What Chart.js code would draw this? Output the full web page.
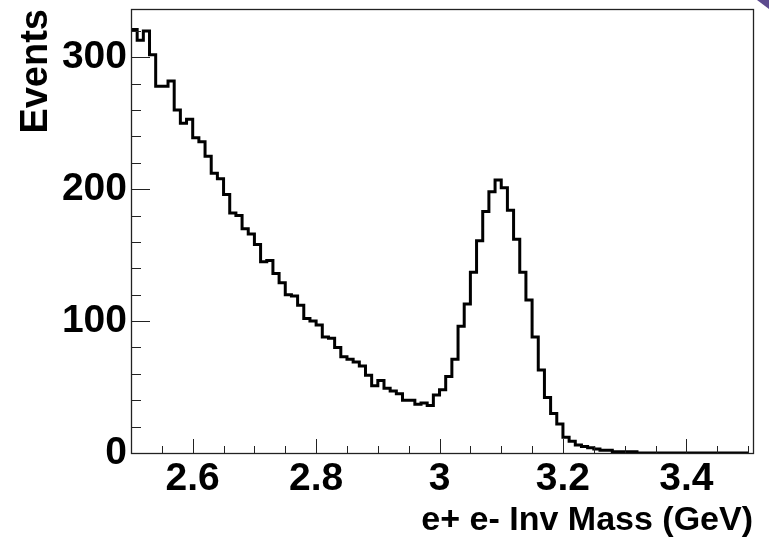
<!DOCTYPE html>
<html lang="en">
<head>
<meta charset="UTF-8">
<title>e+ e- Inv Mass</title>
<script src="https://cdn.jsdelivr.net/npm/chart.js"></script>
<style>
  html, body { margin: 0; padding: 0; background: #fff; }
  #wrap { position: relative; width: 769px; height: 541px; }
</style>
</head>
<body>
<div id="wrap"><canvas id="hist" width="769" height="541"></canvas></div>
<script>
// histogram binning (GeV)
const binLow = 2.5;
const binWidth = 0.01;

// events per bin
const counts = [
  321, 313, 320, 302, 278, 278, 282, 260, 250, 253,
  239, 236, 225, 212, 208, 196, 182, 180, 170, 166,
  158, 145, 146, 136, 129, 120, 119, 112, 102, 100,
  97, 88, 87, 80, 73, 71, 69, 66, 59, 51,
  55, 49, 47, 45, 40, 40, 37, 38, 36, 44,
  48, 58, 71, 96, 113, 137, 161, 183, 198, 207,
  201, 184, 162, 137, 116, 88, 63, 42, 30, 22,
  12, 9, 6, 5, 4, 3, 2, 2, 1, 1,
  1, 1, 0, 0, 0, 0, 0, 0, 0, 0,
  0, 0, 0, 0, 0, 0, 0, 0, 0, 0
];

const xTicks = [2.6, 2.8, 3.0, 3.2, 3.4];
const yTicks = [0, 100, 200, 300];
const xRange = [2.5, 3.508];
const yRange = [0, 336.6];
const xMinorStep = 0.05;
const yMinorStep = 20;

const FONT = "'Liberation Sans', Arial, Helvetica, sans-serif";
Chart.defaults.color = '#000';

// left bin edges, plus the right edge of the last bin
const points = counts.map((c, i) => ({ x: binLow + i * binWidth, y: c }));
points.push({ x: binLow + counts.length * binWidth, y: counts[counts.length - 1] });

// ROOT style frame with inward ticks
const rootFrame = {
  id: 'rootFrame',
  afterDatasetsDraw(chart) {
    const { ctx, chartArea: a, scales: { x, y } } = chart;
    ctx.save();
    ctx.strokeStyle = '#222';
    ctx.lineWidth = 1;
    ctx.beginPath();
    for (let k = 0; ; k++) {
      const v = yRange[0] + k * yMinorStep;
      if (v > yRange[1]) break;
      const py = Math.round(y.getPixelForValue(v)) + 0.5;
      const len = (v % 100 === 0) ? 19 : 10;
      ctx.moveTo(a.left, py);
      ctx.lineTo(a.left + len, py);
    }
    for (let k = 1; ; k++) {
      const v = xRange[0] + k * xMinorStep;
      if (v > xRange[1]) break;
      const px = Math.round(x.getPixelForValue(v)) + 0.5;
      const major = xTicks.some(t => Math.abs(t - v) < 1e-6);
      ctx.moveTo(px, a.bottom);
      ctx.lineTo(px, a.bottom - (major ? 14 : 7));
    }
    ctx.stroke();
    ctx.lineWidth = 1.3;
    ctx.strokeRect(Math.round(a.left) + 0.5, Math.round(a.top) + 0.5,
      Math.round(a.right - a.left), Math.round(a.bottom - a.top));
    ctx.restore();
  },
  afterDraw(chart) {
    // little purple page corner
    const ctx = chart.ctx;
    ctx.save();
    ctx.fillStyle = '#5d4b8f';
    ctx.beginPath();
    ctx.moveTo(757, 0);
    ctx.lineTo(769, 0);
    ctx.lineTo(769, 9);
    ctx.closePath();
    ctx.fill();
    ctx.restore();
  }
};

new Chart(document.getElementById('hist'), {
  type: 'line',
  data: {
    datasets: [{
      data: points,
      stepped: 'before', // horizontal across the bin, then vertical at its right edge
      borderColor: '#000',
      borderWidth: 3,
      pointRadius: 0,
      fill: false
    }]
  },
  options: {
    responsive: false,
    animation: false,
    layout: { padding: { top: 9, right: 16, left: 0, bottom: 0 } },
    plugins: {
      legend: { display: false },
      tooltip: { enabled: false }
    },
    scales: {
      x: {
        type: 'linear',
        min: xRange[0],
        max: xRange[1],
        grid: { display: false, drawTicks: false },
        border: { display: false },
        afterBuildTicks: s => { s.ticks = xTicks.map(v => ({ value: v })); },
        afterFit: s => { s.height = 88; s.paddingLeft = 0; s.paddingRight = 0; },
        ticks: {
          autoSkip: false,
          maxRotation: 0,
          padding: 7,
          color: '#000',
          font: { family: FONT, size: 39, weight: 'bold', lineHeight: 1 },
          callback: v => String(Number(v.toFixed(2)))
        },
        title: {
          display: true,
          text: 'e+ e- Inv Mass (GeV)',
          align: 'end',
          color: '#000',
          padding: { top: 0, bottom: 3 },
          font: { family: FONT, size: 34, weight: 'bold', lineHeight: 1 }
        }
      },
      y: {
        min: yRange[0],
        max: yRange[1],
        grid: { display: false, drawTicks: false },
        border: { display: false },
        afterBuildTicks: s => { s.ticks = yTicks.map(v => ({ value: v })); },
        afterFit: s => { s.width = 131; s.paddingTop = 0; s.paddingBottom = 0; },
        ticks: {
          padding: 4,
          color: '#000',
          font: { family: FONT, size: 39, weight: 'bold', lineHeight: 1 }
        },
        title: {
          display: true,
          text: 'Events',
          align: 'end',
          color: '#000',
          padding: { top: 18, bottom: 0 },
          font: { family: FONT, size: 38, weight: 'bold', lineHeight: 1 }
        }
      }
    }
  },
  plugins: [rootFrame]
});
</script>
</body>
</html>
